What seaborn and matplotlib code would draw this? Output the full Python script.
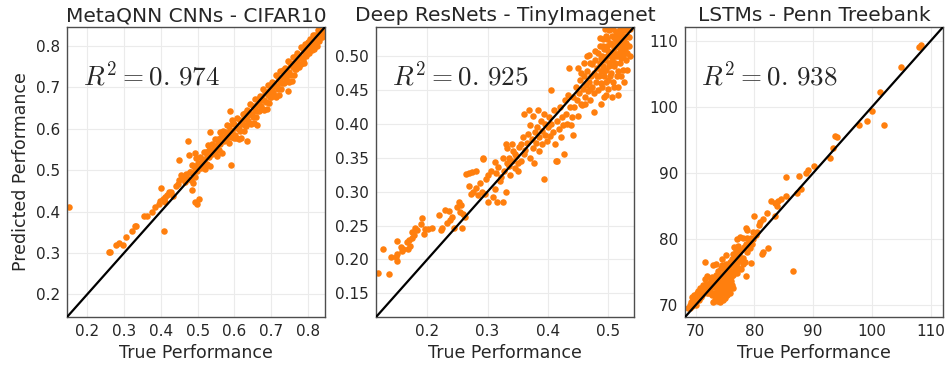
import numpy as np
import pandas as pd
import seaborn as sns
import matplotlib.pyplot as plt

sns.set_style("whitegrid", {"axes.edgecolor": ".3", "grid.color": ".92"})
plt.rcParams["mathtext.fontset"] = "cm"

titles = ["MetaQNN CNNs - CIFAR10", "Deep ResNets - TinyImagenet", "LSTMs - Penn Treebank"]
r2_labels = [r"$R^2 = 0.\,974$", r"$R^2 = 0.\,925$", r"$R^2 = 0.\,938$"]

# (true, predicted)
cifar_pts = [
    (0.149, 0.410), (0.258, 0.303), (0.262, 0.302), (0.279, 0.320), (0.287, 0.323), (0.297, 0.320),
    (0.306, 0.339), (0.321, 0.354), (0.330, 0.364), (0.332, 0.366), (0.353, 0.388), (0.362, 0.390),
    (0.376, 0.399), (0.385, 0.410), (0.394, 0.418), (0.400, 0.458), (0.408, 0.354), (0.398, 0.425),
    (0.405, 0.430), (0.410, 0.436), (0.416, 0.440), (0.422, 0.446), (0.428, 0.448), (0.412, 0.424),
    (0.434, 0.438), (0.447, 0.467), (0.448, 0.524), (0.476, 0.536), (0.493, 0.542), (0.484, 0.451),
    (0.493, 0.422), (0.497, 0.418), (0.503, 0.430), (0.475, 0.570), (0.455, 0.488), (0.460, 0.478),
    (0.468, 0.490), (0.465, 0.472), (0.450, 0.476), (0.442, 0.462), (0.472, 0.482), (0.478, 0.495),
    (0.533, 0.592), (0.588, 0.644), (0.590, 0.513), (0.633, 0.570), (0.660, 0.608), (0.746, 0.692),
    (0.480, 0.495), (0.482, 0.477), (0.484, 0.512), (0.486, 0.490), (0.488, 0.470), (0.490, 0.511),
    (0.492, 0.501), (0.494, 0.484), (0.496, 0.529), (0.498, 0.499), (0.500, 0.517), (0.502, 0.512),
    (0.504, 0.516), (0.506, 0.531), (0.508, 0.506), (0.510, 0.516), (0.512, 0.527), (0.514, 0.509),
    (0.516, 0.544), (0.518, 0.522), (0.520, 0.502), (0.522, 0.543), (0.524, 0.533), (0.526, 0.516),
    (0.528, 0.561), (0.530, 0.531), (0.532, 0.549), (0.534, 0.510), (0.536, 0.548), (0.538, 0.563),
    (0.540, 0.538), (0.542, 0.548), (0.544, 0.559), (0.546, 0.541), (0.548, 0.576), (0.550, 0.554),
    (0.552, 0.534), (0.554, 0.575), (0.556, 0.565), (0.558, 0.548), (0.560, 0.593), (0.562, 0.563),
    (0.564, 0.581), (0.566, 0.542), (0.568, 0.580), (0.570, 0.595), (0.572, 0.570), (0.574, 0.580),
    (0.576, 0.591), (0.578, 0.573), (0.580, 0.608), (0.582, 0.586), (0.584, 0.566), (0.586, 0.607),
    (0.588, 0.597), (0.590, 0.580), (0.592, 0.622), (0.594, 0.595), (0.596, 0.613), (0.598, 0.578),
    (0.600, 0.611), (0.602, 0.586), (0.603, 0.606), (0.605, 0.578), (0.607, 0.601), (0.608, 0.626),
    (0.611, 0.576), (0.612, 0.600), (0.614, 0.621), (0.616, 0.595), (0.617, 0.618), (0.619, 0.578),
    (0.621, 0.612), (0.622, 0.636), (0.625, 0.595), (0.626, 0.623), (0.628, 0.609), (0.629, 0.638),
    (0.631, 0.607), (0.633, 0.632), (0.635, 0.646), (0.636, 0.620), (0.638, 0.641), (0.640, 0.613),
    (0.641, 0.635), (0.643, 0.661), (0.646, 0.611), (0.647, 0.635), (0.649, 0.656), (0.650, 0.629),
    (0.652, 0.653), (0.654, 0.613), (0.655, 0.646), (0.657, 0.671), (0.659, 0.629), (0.661, 0.658),
    (0.662, 0.643), (0.664, 0.673), (0.666, 0.642), (0.667, 0.666), (0.669, 0.680), (0.671, 0.655),
    (0.673, 0.676), (0.674, 0.647), (0.676, 0.670), (0.678, 0.696), (0.680, 0.645), (0.681, 0.669),
    (0.683, 0.690), (0.685, 0.664), (0.686, 0.687), (0.688, 0.647), (0.690, 0.681), (0.692, 0.706),
    (0.693, 0.663), (0.695, 0.692), (0.697, 0.678), (0.698, 0.707), (0.700, 0.676), (0.702, 0.701),
    (0.703, 0.714), (0.705, 0.689), (0.707, 0.710), (0.708, 0.681), (0.710, 0.704), (0.712, 0.730),
    (0.713, 0.678), (0.715, 0.703), (0.717, 0.724), (0.718, 0.697), (0.720, 0.721), (0.722, 0.681),
    (0.724, 0.715), (0.725, 0.739), (0.727, 0.697), (0.729, 0.726), (0.730, 0.711), (0.732, 0.741),
    (0.734, 0.710), (0.736, 0.735), (0.737, 0.748), (0.739, 0.723), (0.741, 0.744), (0.742, 0.715),
    (0.744, 0.738), (0.746, 0.764), (0.747, 0.712), (0.749, 0.737), (0.751, 0.758), (0.752, 0.731),
    (0.754, 0.755), (0.756, 0.715), (0.758, 0.749), (0.759, 0.773), (0.761, 0.731), (0.763, 0.760),
    (0.764, 0.745), (0.766, 0.775), (0.768, 0.744), (0.770, 0.769), (0.771, 0.782), (0.773, 0.757),
    (0.775, 0.778), (0.776, 0.749), (0.778, 0.772), (0.780, 0.798), (0.781, 0.756), (0.783, 0.771),
    (0.785, 0.792), (0.787, 0.766), (0.788, 0.789), (0.790, 0.760), (0.792, 0.783), (0.793, 0.805),
    (0.795, 0.775), (0.797, 0.794), (0.799, 0.784), (0.800, 0.809), (0.802, 0.784), (0.804, 0.803),
    (0.806, 0.816), (0.807, 0.795), (0.809, 0.812), (0.811, 0.791), (0.813, 0.808), (0.814, 0.826),
    (0.816, 0.794), (0.818, 0.809), (0.820, 0.826), (0.821, 0.806), (0.823, 0.824), (0.825, 0.800),
    (0.827, 0.820), (0.828, 0.838), (0.830, 0.812), (0.832, 0.830), (0.834, 0.822), (0.835, 0.843),
    (0.837, 0.822), (0.839, 0.840), (0.841, 0.833), (0.843, 0.847), (0.845, 0.839),
]

tiny_pts = [
    (0.119, 0.180), (0.137, 0.178), (0.126, 0.215), (0.140, 0.203), (0.149, 0.227), (0.149, 0.208),
    (0.150, 0.198), (0.148, 0.204), (0.156, 0.218), (0.159, 0.215), (0.158, 0.212), (0.166, 0.225),
    (0.170, 0.228), (0.172, 0.220), (0.175, 0.232), (0.168, 0.216), (0.178, 0.236), (0.174, 0.240),
    (0.180, 0.247), (0.183, 0.244), (0.191, 0.261), (0.189, 0.252), (0.194, 0.238), (0.197, 0.245),
    (0.202, 0.245), (0.208, 0.247), (0.219, 0.265), (0.224, 0.246), (0.222, 0.243), (0.230, 0.273),
    (0.236, 0.271), (0.233, 0.253), (0.241, 0.262), (0.238, 0.258), (0.245, 0.247), (0.252, 0.284),
    (0.250, 0.278), (0.256, 0.280), (0.260, 0.267), (0.258, 0.247), (0.262, 0.262), (0.255, 0.270),
    (0.265, 0.326), (0.270, 0.328), (0.275, 0.329), (0.281, 0.331), (0.270, 0.309), (0.273, 0.296),
    (0.276, 0.300), (0.280, 0.305), (0.287, 0.313), (0.284, 0.295), (0.290, 0.300), (0.298, 0.318),
    (0.292, 0.349), (0.293, 0.348), (0.300, 0.325), (0.305, 0.330), (0.309, 0.292), (0.312, 0.304),
    (0.314, 0.328), (0.325, 0.284), (0.313, 0.344), (0.318, 0.336), (0.320, 0.315), (0.322, 0.322),
    (0.326, 0.350), (0.328, 0.330), (0.332, 0.342), (0.335, 0.338), (0.336, 0.350), (0.338, 0.325),
    (0.340, 0.345), (0.342, 0.360), (0.345, 0.335), (0.348, 0.352), (0.350, 0.342), (0.352, 0.366),
    (0.300, 0.285), (0.296, 0.296), (0.316, 0.284), (0.330, 0.300), (0.330, 0.370), (0.333, 0.365),
    (0.340, 0.370), (0.345, 0.356), (0.350, 0.330), (0.355, 0.345),
    (0.355, 0.370), (0.358, 0.380), (0.360, 0.414), (0.360, 0.355), (0.362, 0.362), (0.365, 0.372),
    (0.367, 0.385), (0.368, 0.421), (0.370, 0.350), (0.371, 0.398), (0.373, 0.378), (0.375, 0.365),
    (0.376, 0.412), (0.377, 0.342), (0.378, 0.388), (0.380, 0.372), (0.382, 0.395), (0.383, 0.420),
    (0.385, 0.360), (0.386, 0.380), (0.388, 0.405), (0.390, 0.370), (0.391, 0.390), (0.393, 0.318),
    (0.393, 0.415), (0.395, 0.384), (0.396, 0.400), (0.398, 0.375), (0.400, 0.395), (0.402, 0.410),
    (0.405, 0.450), (0.404, 0.382), (0.406, 0.400), (0.408, 0.388), (0.410, 0.420), (0.412, 0.370),
    (0.414, 0.345), (0.416, 0.345), (0.416, 0.405), (0.418, 0.392), (0.420, 0.425), (0.422, 0.380),
    (0.424, 0.410), (0.426, 0.398), (0.427, 0.355), (0.428, 0.435), (0.430, 0.415), (0.432, 0.400),
    (0.434, 0.442), (0.435, 0.482), (0.436, 0.425), (0.438, 0.398), (0.440, 0.410), (0.442, 0.384),
    (0.442, 0.440), (0.444, 0.425), (0.446, 0.455), (0.448, 0.436), (0.450, 0.411), (0.450, 0.482),
    (0.452, 0.445), (0.454, 0.465), (0.455, 0.430), (0.457, 0.428), (0.458, 0.452), (0.460, 0.470),
    (0.462, 0.440), (0.463, 0.458), (0.465, 0.478), (0.466, 0.448), (0.468, 0.501), (0.468, 0.462),
    (0.470, 0.435), (0.471, 0.470), (0.473, 0.488), (0.474, 0.455), (0.476, 0.445), (0.477, 0.418),
    (0.477, 0.475), (0.479, 0.495), (0.480, 0.462), (0.481, 0.482), (0.483, 0.505), (0.484, 0.450),
    (0.485, 0.470), (0.486, 0.490), (0.487, 0.515), (0.488, 0.478), (0.489, 0.460), (0.490, 0.500),
    (0.491, 0.525), (0.492, 0.485), (0.493, 0.470), (0.494, 0.510), (0.495, 0.495), (0.496, 0.443),
    (0.496, 0.530), (0.497, 0.480), (0.498, 0.515), (0.499, 0.500), (0.500, 0.465), (0.501, 0.538),
    (0.502, 0.490), (0.503, 0.520), (0.504, 0.505), (0.505, 0.475), (0.506, 0.530), (0.507, 0.495),
    (0.508, 0.540), (0.509, 0.512), (0.510, 0.485), (0.511, 0.525), (0.512, 0.500), (0.513, 0.535),
    (0.514, 0.470), (0.515, 0.515), (0.516, 0.455), (0.517, 0.443), (0.517, 0.530), (0.518, 0.505),
    (0.519, 0.540), (0.520, 0.490), (0.521, 0.520), (0.522, 0.535), (0.523, 0.505), (0.524, 0.542),
    (0.525, 0.480), (0.526, 0.525), (0.527, 0.512), (0.528, 0.538), (0.529, 0.495), (0.531, 0.480),
    (0.532, 0.530), (0.534, 0.515), (0.536, 0.540), (0.530, 0.542),
    (0.478, 0.508), (0.482, 0.470), (0.486, 0.527), (0.488, 0.498), (0.490, 0.455), (0.492, 0.515),
    (0.494, 0.478), (0.495, 0.540), (0.497, 0.462), (0.498, 0.525), (0.500, 0.508), (0.501, 0.485),
    (0.502, 0.548), (0.503, 0.470), (0.505, 0.518), (0.506, 0.500), (0.507, 0.545), (0.508, 0.462),
    (0.509, 0.528), (0.510, 0.505), (0.511, 0.490), (0.512, 0.548), (0.513, 0.518), (0.514, 0.500),
    (0.515, 0.535), (0.516, 0.478), (0.517, 0.550), (0.518, 0.525), (0.519, 0.510), (0.520, 0.545),
    (0.521, 0.498), (0.522, 0.530), (0.523, 0.552), (0.524, 0.515), (0.525, 0.500), (0.526, 0.548),
    (0.527, 0.530), (0.528, 0.510), (0.529, 0.552), (0.530, 0.520), (0.531, 0.540), (0.532, 0.505),
    (0.533, 0.548), (0.535, 0.528), (0.537, 0.500), (0.527, 0.462), (0.522, 0.470), (0.510, 0.455),
    (0.506, 0.440), (0.500, 0.452), (0.493, 0.440), (0.488, 0.430), (0.470, 0.490), (0.465, 0.500),
    (0.460, 0.490), (0.455, 0.475), (0.462, 0.430), (0.470, 0.452),
]

ptb_pts = [
    (108.3, 109.35), (108.0, 109.0), (105.0, 106.0), (101.3, 102.2), (100.0, 99.45), (99.1, 97.8),
    (97.8, 97.3), (102.1, 97.3), (93.7, 95.6), (94.1, 95.4), (93.4, 93.8), (92.8, 92.3),
    (90.1, 91.1), (89.1, 90.5), (88.7, 90.0), (87.6, 89.5), (85.3, 89.4), (87.9, 87.6),
    (87.2, 87.0), (85.45, 86.5), (84.5, 86.0), (84.0, 85.7), (83.5, 85.4), (83.8, 85.0),
    (82.9, 85.8), (82.1, 84.0), (83.5, 83.5), (79.9, 83.5), (81.4, 83.1), (81.0, 82.6),
    (80.7, 82.1), (78.6, 81.7), (78.7, 81.4), (79.8, 81.1), (79.5, 76.3), (82.3, 78.6),
    (81.5, 78.0), (81.3, 77.8), (86.6, 75.1), (71.65, 76.5),
    (69.0, 70.0), (69.2, 70.4), (69.5, 70.8), (69.3, 71.2), (69.8, 71.5), (70.0, 70.6),
    (70.2, 71.8), (70.4, 72.2), (70.6, 71.6), (70.8, 72.6), (71.0, 72.0), (71.2, 73.0),
    (71.4, 72.4), (71.5, 72.8), (71.8, 73.2), (72.0, 72.6), (72.2, 73.0), (72.4, 72.2),
    (72.6, 73.6), (72.8, 74.2), (73.0, 73.4), (73.2, 72.8), (73.3, 70.8), (73.5, 71.2),
    (73.6, 72.0), (73.8, 71.6), (74.0, 72.4), (74.0, 70.9), (74.2, 71.4), (74.4, 72.8),
    (74.5, 71.8), (74.8, 72.2), (74.6, 73.6), (75.0, 72.6), (75.2, 73.0), (75.4, 73.8),
    (75.6, 72.4), (75.8, 73.4), (76.0, 74.2), (76.2, 73.0), (76.3, 72.6), (76.4, 74.6),
    (73.5, 74.6), (73.8, 75.2), (74.0, 74.0), (74.3, 75.6), (74.5, 76.0), (74.8, 74.8),
    (75.0, 75.4), (75.2, 76.2), (75.5, 74.4), (75.6, 75.8), (75.8, 76.6), (76.0, 75.2),
    (76.2, 77.0), (76.5, 76.0), (76.6, 74.8), (76.8, 77.4), (77.0, 76.4), (77.2, 75.6),
    (77.4, 77.8), (77.6, 76.8), (77.8, 78.4), (78.0, 77.2), (78.2, 78.8), (78.4, 76.6),
    (78.5, 74.4), (78.6, 79.2), (78.8, 78.0), (79.0, 79.6), (79.2, 78.6), (79.4, 80.2),
    (79.6, 79.2), (77.1, 80.0), (77.5, 80.3), (78.0, 80.1), (78.8, 80.2), (79.7, 80.0),
    (76.3, 77.8), (76.8, 78.4), (77.2, 78.9), (73.0, 76.0), (73.4, 76.2), (72.6, 74.0),
    (72.0, 74.4), (72.4, 73.4), (71.6, 74.0), (76.5, 78.8), (75.2, 77.6), (74.5, 77.0),
    (80.2, 80.6), (80.5, 81.0), (68.7, 69.6), (69.6, 70.1),
    (69.0, 69.5), (69.4, 69.8), (69.7, 70.3), (70.1, 70.0), (70.3, 71.0), (70.5, 70.8),
    (70.9, 71.3), (71.1, 71.6), (71.3, 71.9), (71.7, 72.1), (71.9, 71.8), (72.1, 72.3),
    (72.3, 71.9), (72.5, 72.7), (72.9, 72.9), (73.1, 74.0), (73.4, 73.7), (73.7, 73.3),
    (73.9, 72.9), (74.1, 73.3), (74.3, 74.5), (74.7, 73.9), (74.9, 73.1), (75.1, 74.1),
    (75.3, 71.9), (75.5, 72.9), (75.7, 74.9), (75.9, 71.8), (76.1, 73.6), (76.7, 75.6),
    (77.0, 74.9), (77.3, 77.0), (77.7, 75.4), (78.1, 76.2), (72.8, 71.5), (73.0, 70.5),
    (73.6, 70.6), (74.2, 70.4), (74.6, 70.7), (75.0, 71.0), (75.4, 71.5), (73.2, 71.8),
]

all_pts = [cifar_pts, tiny_pts, ptb_pts]
limits = [(0.145, 0.846), (0.115, 0.543), (68.2, 112.1)]
ticks = [
    ([0.2, 0.3, 0.4, 0.5, 0.6, 0.7, 0.8], "{:.1f}", [0.2, 0.3, 0.4, 0.5, 0.6, 0.7, 0.8], "{:.1f}"),
    ([0.2, 0.3, 0.4, 0.5], "{:.1f}", [0.15, 0.20, 0.25, 0.30, 0.35, 0.40, 0.45, 0.50], "{:.2f}"),
    ([70, 80, 90, 100, 110], "{:.0f}", [70, 80, 90, 100, 110], "{:.0f}"),
]

fig, axes = plt.subplots(1, 3, figsize=(9.47, 3.68), dpi=100)
fig.subplots_adjust(left=0.0708, right=0.9958, bottom=0.1386, top=0.9266, wspace=0.198)

for i, ax in enumerate(axes):
    df = pd.DataFrame(all_pts[i], columns=["true", "pred"])
    sns.scatterplot(data=df, x="true", y="pred", ax=ax, color="#ff7f0e",
                    s=22, linewidth=0, alpha=1, zorder=2)
    lo, hi = limits[i]
    ax.axline((lo, lo), slope=1, color="black", lw=1.6, zorder=3)
    ax.set_xlim(lo, hi)
    ax.set_ylim(lo, hi)
    xt, xfmt, yt, yfmt = ticks[i]
    ax.set_xticks(xt)
    ax.set_xticklabels([xfmt.format(v) for v in xt])
    ax.set_yticks(yt)
    ax.set_yticklabels([yfmt.format(v) for v in yt])
    ax.tick_params(labelsize=11, length=0, pad=5)
    ax.set_title(titles[i], fontsize=14.5, pad=4)
    ax.set_xlabel("True Performance", fontsize=12.5)
    ax.set_ylabel("Predicted Performance" if i == 0 else "", fontsize=12.5)
    ax.text(0.06, 0.80, r2_labels[i], transform=ax.transAxes, fontsize=19.5,
            va="baseline", color=".15")
    for sp in ax.spines.values():
        sp.set_linewidth(1.0)

fig.savefig("out.png", dpi=100)
